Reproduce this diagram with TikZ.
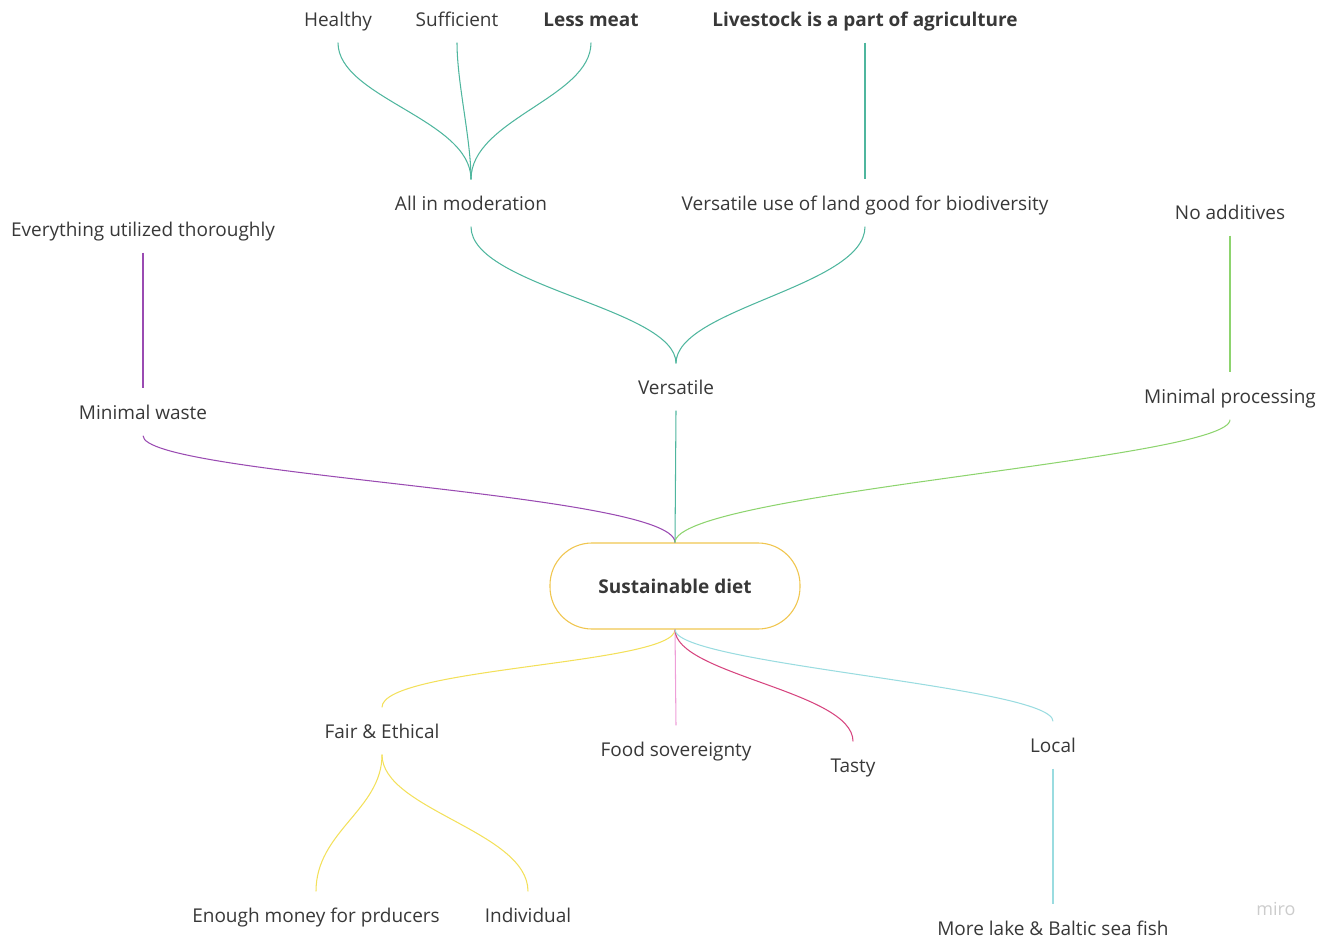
\documentclass[tikz,border=0pt]{standalone}
\usepackage{fontspec}
\setmainfont{Open Sans}
\usepackage{tikz}
\usetikzlibrary{calc}

\definecolor{tealline}{HTML}{4FB69E}
\definecolor{purpleline}{HTML}{9A4BB2}
\definecolor{greenline}{HTML}{8DD46E}
\definecolor{yellowline}{HTML}{F3E05A}
\definecolor{boxline}{HTML}{F0C650}
\definecolor{pinkline}{HTML}{EE9ED8}
\definecolor{magentaline}{HTML}{D6447F}
\definecolor{cyanline}{HTML}{9ADCE0}
\definecolor{labeltext}{HTML}{383838}

\tikzset{
	label/.style={text=labeltext, font=\fontsize{19}{22}\selectfont, inner sep=0pt, text height=16pt, text depth=2pt, minimum height=47pt},
	boldlabel/.style={label, font=\fontsize{19}{22}\selectfont\bfseries},
	centerbox/.style={draw=boxline, line width=1.1pt, rounded corners=42pt, minimum width=250pt, minimum height=86pt, text=labeltext, text height=16pt, text depth=2pt, font=\fontsize{19}{22}\selectfont\bfseries},
	link/.style={line width=1.05pt}
}

\begin{document}
\begin{tikzpicture}[x=1pt, y=-1pt]
			%%%%% START %%%%%
			\useasboundingbox (0, 0) rectangle (1320, 940);
			
			\node[label] (healthy) at (338, 19) {Healthy};
			\node[label] (sufficient) at (457, 19) {Sufficient};
			\node[boldlabel] (lessmeat) at (591, 19) {Less meat};
			\node[boldlabel] (livestock) at (865, 19) {Livestock is a part of agriculture};
			
			\node[label] (moderation) at (471, 203) {All in moderation};
			\node[label] (landuse) at (865, 203) {Versatile use of land good for biodiversity};
			\node[label] (additives) at (1230, 212) {No additives};
			\node[label] (utilized) at (143, 229) {Everything utilized thoroughly};
			
			\node[label] (waste) at (143, 412) {Minimal waste};
			\node[label] (versatile) at (676, 387) {Versatile};
			\node[label] (processing) at (1230, 396) {Minimal processing};
			
			\node[centerbox] (diet) at (675, 586) {Sustainable diet};
			
			\node[label] (fair) at (382, 731) {Fair \& Ethical};
			\node[label] (sovereignty) at (676, 749) {Food sovereignty};
			\node[label] (tasty) at (853, 765) {Tasty};
			\node[label] (local) at (1053, 745) {Local};
			
			\node[label] (money) at (316, 915) {Enough money for prducers};
			\node[label] (individual) at (528, 915) {Individual};
			\node[label] (fish) at (1053, 928) {More lake \& Baltic sea fish};
			
			\node[text=black!20, font=\fontsize{18}{22}\selectfont] (miro) at (1276, 909) {miro};
			
			% top branches
			\draw[link, tealline] (healthy.south) .. controls +(0, 55) and +(0, -60) .. (moderation.north);
			\draw[link, tealline] (sufficient.south) .. controls +(0, 40) and +(0, -40) .. (moderation.north);
			\draw[link, tealline] (lessmeat.south) .. controls +(0, 55) and +(0, -60) .. (moderation.north);
			\draw[link, tealline] (livestock.south) -- (landuse.north);
			
			\draw[link, tealline] (moderation.south) .. controls +(0, 60) and +(0, -55) .. (versatile.north);
			\draw[link, tealline] (landuse.south) .. controls +(0, 60) and +(0, -55) .. (versatile.north);
			\draw[link, greenline] (additives.south) -- (processing.north);
			\draw[link, purpleline] (utilized.south) -- (waste.north);
			
			% into the centre
			\draw[link, purpleline] (waste.south) .. controls +(0, 40) and +(0, -50) .. (diet.north);
			\draw[link, tealline] (versatile.south) -- (diet.north);
			\draw[link, greenline] (processing.south) .. controls +(0, 40) and +(0, -50) .. (diet.north);
			
			% out of the centre
			\draw[link, yellowline] (diet.south) .. controls +(0, 35) and +(0, -40) .. (fair.north);
			\draw[link, pinkline] (diet.south) -- (sovereignty.north);
			\draw[link, magentaline] (diet.south) .. controls +(0, 45) and +(0, -50) .. (tasty.north);
			\draw[link, cyanline] (diet.south) .. controls +(0, 35) and +(0, -35) .. (local.north);
			
			\draw[link, yellowline] (fair.south) .. controls +(0, 55) and +(0, -60) .. (money.north);
			\draw[link, yellowline] (fair.south) .. controls +(0, 55) and +(0, -60) .. (individual.north);
			\draw[link, cyanline] (local.south) -- (fish.north);
			%%%%% END %%%%%
\end{tikzpicture}
\end{document}
